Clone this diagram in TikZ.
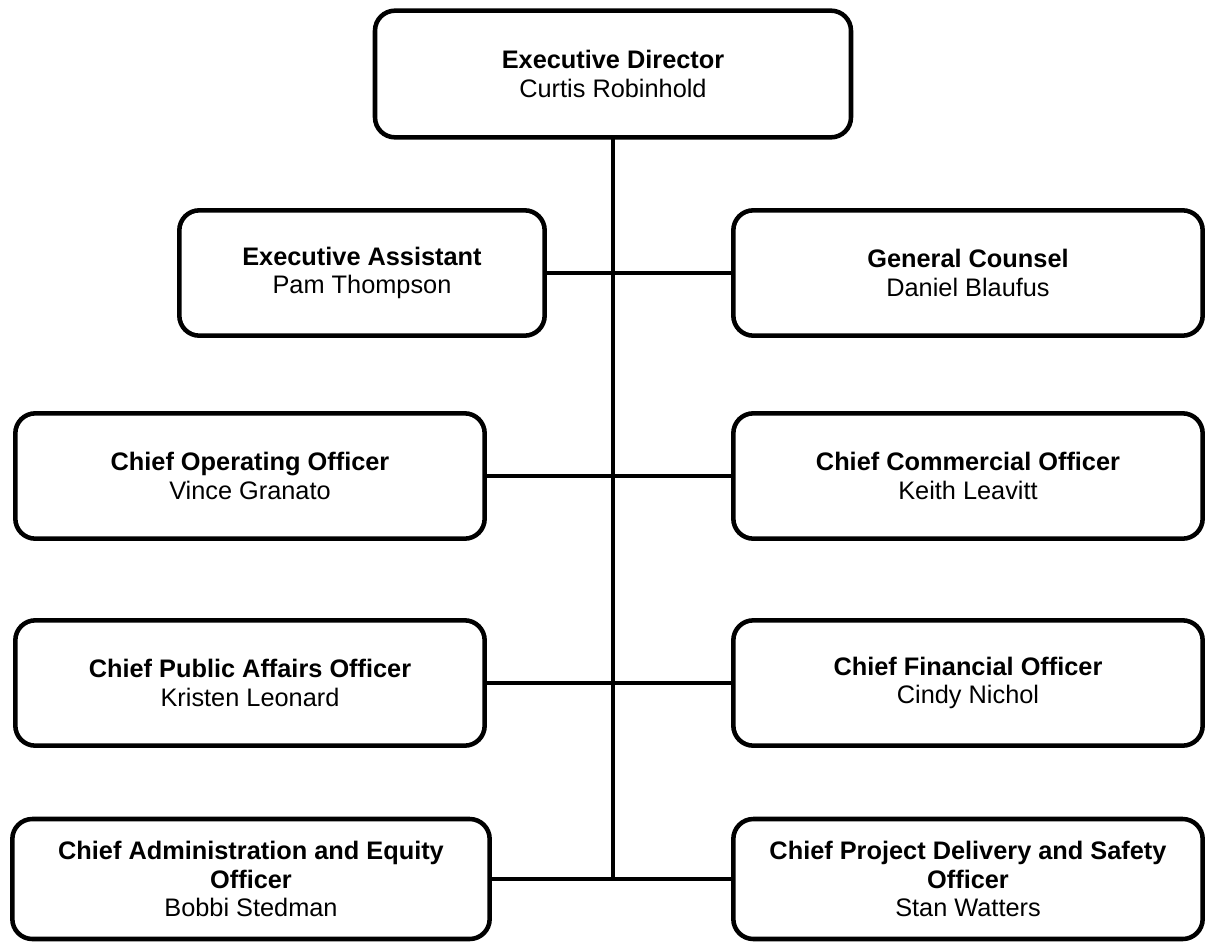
\documentclass[tikz,border=0pt]{standalone}
\usepackage{fontspec}
\setmainfont{Liberation Sans}
\usetikzlibrary{calc}
\tikzset{
    post/.style = {draw, rectangle, rounded corners=15pt,
        line width=3.4pt, align=center,
        inner sep=0pt, outer sep=0pt,
        minimum height=94pt,
        minimum width=352pt,
        font=\fontsize{19}{21.2}\selectfont},
    link/.style = {draw, line width=2.3pt}
}

\begin{document}
\begin{tikzpicture}[x=0.75pt,y=-0.75pt]
    \useasboundingbox (0,0) rectangle (1207,943);
    \node[post, minimum width=357pt, minimum height=95pt] (ed) at (613,74) {\textbf{Executive Director}\\Curtis Robinhold};
    \node[post, minimum width=274pt] (ea) at (362,273) {\textbf{Executive Assistant}\\Pam Thompson};
    \node[post] (gc) at (968,273) {\textbf{General Counsel}\\Daniel Blaufus};
    \node[post] (coo) at (250,476) {\textbf{Chief Operating Officer}\\Vince Granato};
    \node[post] (cco) at (968,476) {\textbf{Chief Commercial Officer}\\Keith Leavitt};
    \node[post] (cpa) at (250,683) {\textbf{Chief Public Affairs Officer}\\Kristen Leonard};
    \node[post] (cfo) at (968,683) {\textbf{Chief Financial Officer}\\Cindy Nichol};
    \node[post, minimum width=358pt, minimum height=90pt] (cae) at (251,879) {\textbf{Chief Administration and Equity}\\\textbf{Officer}\\Bobbi Stedman};
    \node[post, minimum height=90pt] (cpd) at (968,879) {\textbf{Chief Project Delivery and Safety}\\\textbf{Officer}\\Stan Watters};
    % spine and branches
    \coordinate (bot) at (ed.south |- cae.east);
    \draw[link] (ed.south) -- (bot);
    \foreach \l/\r in {ea/gc,coo/cco,cpa/cfo,cae/cpd}
        \draw[link] (\l.east) -- (\r.west);
\end{tikzpicture}
\end{document}
